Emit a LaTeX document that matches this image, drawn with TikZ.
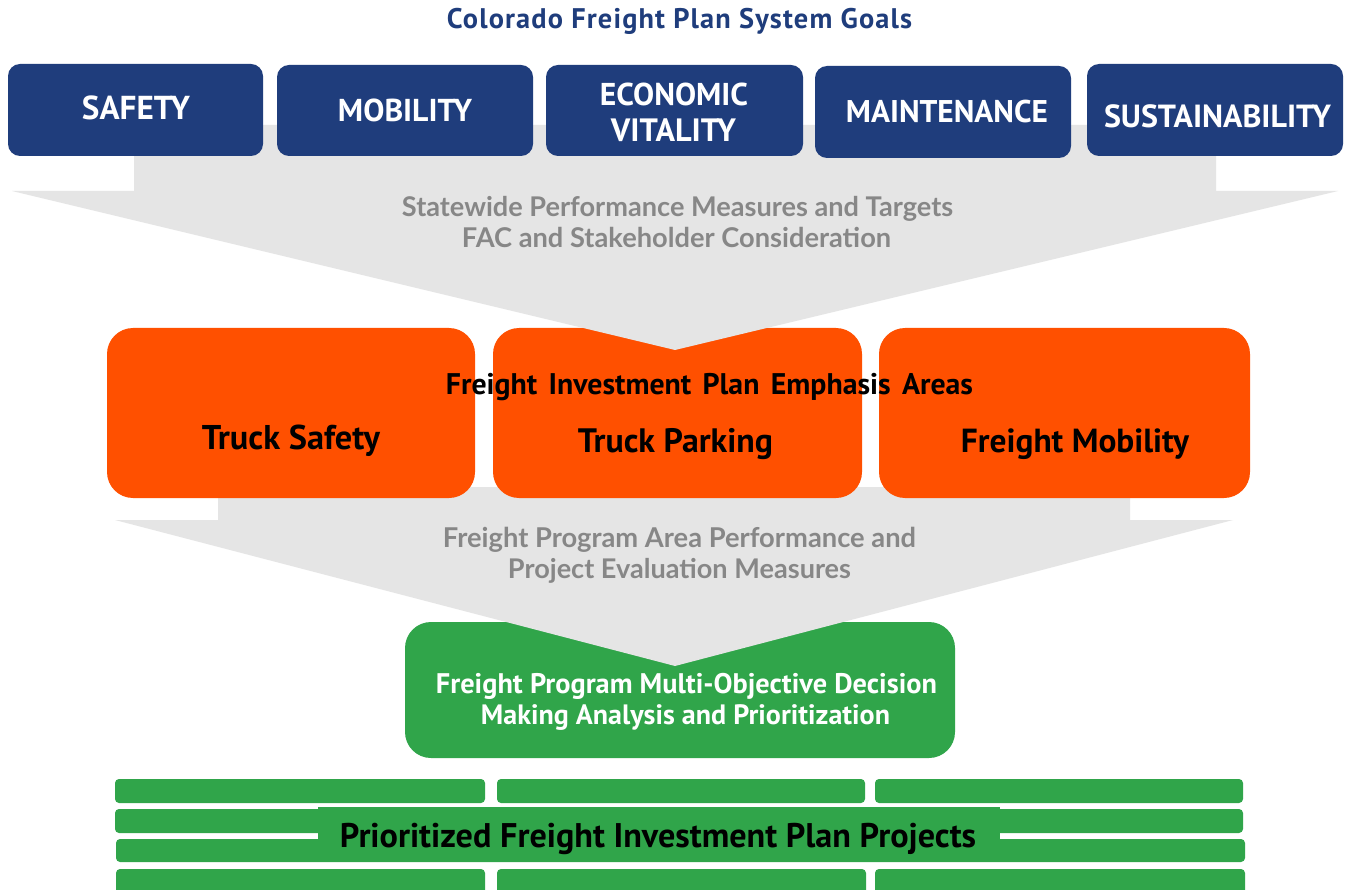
\documentclass[tikz,border=0pt]{standalone}
\usepackage{fontspec}
\setmainfont{PT Sans}
\newfontfamily\latofont{Lato}
\newfontfamily\titlefont{PT Sans}[LetterSpace=4]
\newfontfamily\widefont{PT Sans}[WordSpace=1.5]
\usepackage{graphicx}
\definecolor{goalblue}{HTML}{1F3D7C}
\definecolor{emorange}{HTML}{FF5000}
\definecolor{progreen}{HTML}{30A54A}
\definecolor{arrowgray}{HTML}{E5E5E5}
\definecolor{textgray}{HTML}{878787}
\newcommand{\fitw}[2]{\resizebox{#1pt}{!}{#2}}
\begin{document}
\begin{tikzpicture}[x=1pt,y=-1pt,
  box/.style={inner sep=0pt, outer sep=0pt, draw=none},
  bluebox/.style={box, fill=goalblue, rounded corners=12pt},
  orangebox/.style={box, fill=emorange, rounded corners=26pt},
  greenbox/.style={box, fill=progreen, rounded corners=26pt},
  bar/.style={fill=progreen, rounded corners=4pt},
  lbl/.style={inner sep=0pt, outer sep=0pt, anchor=base, font=\bfseries},
  whitelbl/.style={lbl, text=white},
  graylbl/.style={lbl, text=textgray, font=\latofont\bfseries},
  blacklbl/.style={lbl, text=black}
]
\useasboundingbox (0,0) rectangle (1346,890);
\fill[white] (0,0) rectangle (1346,890);

% green decision box
\node[greenbox, minimum width=550pt, minimum height=136pt] (mcda) at (680,690) {};

% bottom project bars
\fill[bar] (115,779) rectangle (485,803);
\fill[bar] (497,779) rectangle (865,803);
\fill[bar] (875,779) rectangle (1243,803);
\fill[bar] (115,809) rectangle (1243,833);
\fill[bar] (116,839) rectangle (1245,862);
\fill[bar] (116,869) rectangle (485,895);
\fill[bar] (497,869) rectangle (866,895);
\fill[bar] (875,869) rectangle (1245,895);
\node[box, fill=progreen, minimum width=682pt, minimum height=55pt] (projbox) at (659,834.5) {};

% second gray arrow
\fill[arrowgray] (218,487) -- (1130,487) -- (1130,520) -- (1233,520) -- (675,666) -- (115,520) -- (218,520) -- cycle;

% orange emphasis boxes
\node[orangebox, minimum width=368pt, minimum height=170pt] (tsbox) at (291,413) {};
\node[orangebox, minimum width=369pt, minimum height=170pt] (tpbox) at (677.5,413) {};
\node[orangebox, minimum width=371pt, minimum height=170pt] (fmbox) at (1064.5,413) {};

% first gray arrow
\fill[arrowgray] (134,125) -- (1216,125) -- (1216,191) -- (1338,191) -- (675,350) -- (12,191) -- (134,191) -- cycle;

% blue goal boxes
\node[bluebox, minimum width=255pt, minimum height=92pt] (safety) at (135.5,110) {};
\node[bluebox, minimum width=256pt, minimum height=91pt] (mobility) at (405,110.5) {};
\node[bluebox, minimum width=257pt, minimum height=91pt] (econ) at (674.5,110.5) {};
\node[bluebox, minimum width=256pt, minimum height=92pt] (maint) at (943,112) {};
\node[bluebox, minimum width=256pt, minimum height=92pt] (sust) at (1215,110) {};

% texts
\node[lbl, text=goalblue] (title) at (679.5,29) {\fitw{465}{\titlefont\bfseries Colorado Freight Plan System Goals}};

\node[whitelbl] (tsafety) at (136,120) {\fitw{108}{SAFETY}};
\node[whitelbl] (tmobility) at (405,122) {\fitw{134}{MOBILITY}};
\node[whitelbl] (tecon1) at (674,106) {\fitw{148}{ECONOMIC}};
\node[whitelbl] (tecon2) at (673.5,142) {\fitw{125}{VITALITY}};
\node[whitelbl] (tmaint) at (947,123) {\fitw{202}{MAINTENANCE}};
\node[whitelbl] (tsust) at (1217.5,128) {\fitw{227}{SUSTAINABILITY}};

\node[graylbl] (gray1) at (677.5,217) {\fitw{551}{Statewide Performance Measures and Targets}};
\node[graylbl] (gray2) at (676.5,248) {\fitw{429}{FAC and Stakeholder Consideration}};

\node[blacklbl] (fipea) at (709.5,394) {\fitw{527}{\widefont\bfseries Freight Investment Plan Emphasis Areas}};
\node[blacklbl] (tts) at (291,449) {\fitw{178}{Truck Safety}};
\node[blacklbl] (ttp) at (675.5,452) {\fitw{195}{Truck Parking}};
\node[blacklbl] (tfm) at (1075,452) {\fitw{228}{Freight Mobility}};

\node[graylbl] (gray3) at (679.5,547) {\fitw{473}{Freight Program Area Performance and}};
\node[graylbl] (gray4) at (679.5,578) {\fitw{343}{Project Evaluation Measures}};

\node[whitelbl] (green1) at (686.5,693) {\fitw{501}{Freight Program Multi-Objective Decision}};
\node[whitelbl] (green2) at (685.5,724) {\fitw{409}{Making Analysis and Prioritization}};

\node[blacklbl] (projlbl) at (658,847) {\fitw{636}{Prioritized Freight Investment Plan Projects}};
\end{tikzpicture}
\end{document}
